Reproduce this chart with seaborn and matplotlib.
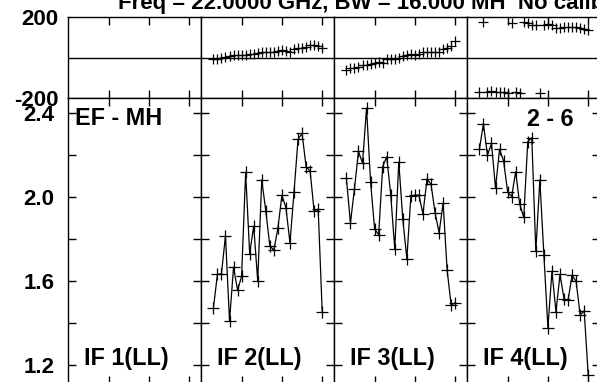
import matplotlib
matplotlib.use("Agg")
import matplotlib.pyplot as plt
import seaborn as sns

sns.set_theme(style="white")
plt.rcParams["font.family"] = ["Liberation Sans", "DejaVu Sans"]
plt.rcParams["font.weight"] = "bold"

# ---------------- data ----------------
title_text = "Freq = 22.0000 GHz, BW = 16.000 MH  No calibration"
baseline_label = "EF - MH"
source_label = "2 - 6"
if_labels = ["IF 1(LL)", "IF 2(LL)", "IF 3(LL)", "IF 4(LL)"]

channels = [3, 4, 5, 6, 7, 8, 9, 10, 11, 12, 13, 14, 15, 16,
            17, 18, 19, 20, 21, 22, 23, 24, 25, 26, 27, 28, 29, 30]

amp_if1 = []
amp_if2 = [1.469, 1.630, 1.633, 1.814, 1.408, 1.664, 1.554, 1.621, 2.116, 1.729,
           1.860, 1.599, 2.080, 1.933, 1.767, 1.745, 1.849, 2.007, 1.948, 1.780,
           2.021, 2.273, 2.302, 2.143, 2.122, 1.930, 1.941, 1.452]
amp_if3 = [2.089, 1.875, 2.037, 2.216, 2.160, 2.422, 2.071, 1.846, 1.819, 2.143,
           2.190, 2.010, 1.751, 2.165, 1.892, 1.705, 2.003, 2.007, 2.007, 1.918,
           2.084, 2.059, 1.924, 1.829, 1.969, 1.650, 1.483, 1.495]
amp_if4 = [2.225, 2.348, 2.197, 2.254, 2.041, 2.225, 2.171, 2.024, 2.000, 2.119,
           1.965, 1.902, 2.262, 2.281, 1.741, 2.080, 1.724, 1.375, 1.645, 1.452,
           1.630, 1.513, 1.507, 1.626, 1.597, 1.437, 1.457, 1.150]

ph_if1 = []
ph_if2 = [-5, -5, -2, 6, 11, 15, 15, 16, 15, 18, 21, 25, 28, 28,
          28, 31, 36, 39, 36, 28, 44, 48, 48, 53, 64, 64, 57, 48]
ph_if3 = [-58, -51, -51, -46, -38, -35, -31, -26, -22, -25, -8, -5, -8, -2,
          8, 15, 20, 15, 20, 31, 31, 31, 31, 28, 41, 48, 56, 81]
ph_if4 = [-170, 179, -168, -165, -170, -168, -170, -172, 170, -170, -174, 179, 173, 160,
          160, -176, 163, 168, 160, 147, 147, 150, 152, 152, 150, 147, 143, 135]

amp_series = [amp_if1, amp_if2, amp_if3, amp_if4]
ph_series = [ph_if1, ph_if2, ph_if3, ph_if4]

amp_ticks = [1.2, 1.4, 1.6, 1.8, 2.0, 2.2, 2.4]
amp_ticklabels = ["1.2", "", "1.6", "", "2.0", "", "2.4"]
ph_ticks = [-200, 200]
ph_ticklabels = ["-200", "200"]
chan_ticks = [10, 20, 30]

# ---------------- layout ----------------
W, H = 597, 382
fig = plt.figure(figsize=(W / 100, H / 100), dpi=100)


def px_rect(x0, y0, w, h):
    return [x0 / W, 1 - (y0 + h) / H, w / W, h / H]


col_left = [68.3, 201.3, 334.3, 467.3]
col_w = 133.0
ph_top, ph_h = 17.3, 81.0
amp_top, amp_h = 98.3, 285.7

for i in range(4):
    # ---- phase panel ----
    axp = fig.add_axes(px_rect(col_left[i], ph_top, col_w, ph_h))
    axp.axhline(0, color="black", lw=1.0, zorder=1)
    if len(ph_series[i]):
        sns.scatterplot(x=channels[:len(ph_series[i])], y=ph_series[i], ax=axp,
                        marker="+", s=55, color="black", linewidth=0.9, zorder=3)
    axp.set_xlim(0, 33)
    axp.set_ylim(-200, 200)
    axp.set_xticks(chan_ticks)
    axp.set_yticks(ph_ticks)
    axp.set_yticklabels(ph_ticklabels if i == 0 else ["", ""])
    axp.tick_params(axis="x", direction="in", length=6, width=1, top=True, bottom=True,
                    labelbottom=False, colors="black")
    axp.tick_params(axis="y", direction="in", length=0, pad=7, labelsize=16,
                    left=True, right=False, labelleft=(i == 0), colors="black")
    for lab in axp.get_yticklabels():
        lab.set_fontweight("bold")
    axp.set_xlabel("")
    axp.set_ylabel("")
    for s in axp.spines.values():
        s.set_color("black")
        s.set_linewidth(1.0)

    # ---- amplitude panel ----
    axa = fig.add_axes(px_rect(col_left[i], amp_top, col_w, amp_h))
    if len(amp_series[i]):
        sns.lineplot(x=channels[:len(amp_series[i])], y=amp_series[i], ax=axa,
                     color="black", linewidth=0.9, marker="+", markersize=8,
                     markeredgewidth=0.9, markeredgecolor="black", errorbar=None)
    axa.set_xlim(0, 33)
    axa.set_ylim(2.4 - (384 - 112.7) / 210, 2.4 + (112.7 - 98.3) / 210)
    axa.set_xticks(chan_ticks)
    axa.set_yticks(amp_ticks)
    axa.set_yticklabels(amp_ticklabels if i == 0 else [""] * len(amp_ticks))
    axa.tick_params(axis="x", direction="in", length=6, width=1, top=True, bottom=True,
                    labelbottom=False, colors="black")
    axa.tick_params(axis="y", direction="in", length=6, width=1, left=True, right=True,
                    pad=10, labelsize=16, labelleft=(i == 0), colors="black")
    for lab in axa.get_yticklabels():
        lab.set_fontweight("bold")
    axa.set_xlabel("")
    axa.set_ylabel("")
    for s in axa.spines.values():
        s.set_color("black")
        s.set_linewidth(1.0)

    fig.text((col_left[i] + 15.5) / W, 1 - 365 / H, if_labels[i],
             ha="left", va="baseline", fontsize=16.8, fontweight="bold", color="black")

fig.text(118 / W, 1 - 9.3 / H, title_text, ha="left", va="baseline",
         fontsize=16, fontweight="bold", color="black")
fig.text(75 / W, 1 - 125 / H, baseline_label, ha="left", va="baseline",
         fontsize=16.8, fontweight="bold", color="black")
fig.text(573.3 / W, 1 - 125.7 / H, source_label, ha="right", va="baseline",
         fontsize=16.8, fontweight="bold", color="black")

fig.savefig("out.png", dpi=100, facecolor="white")
